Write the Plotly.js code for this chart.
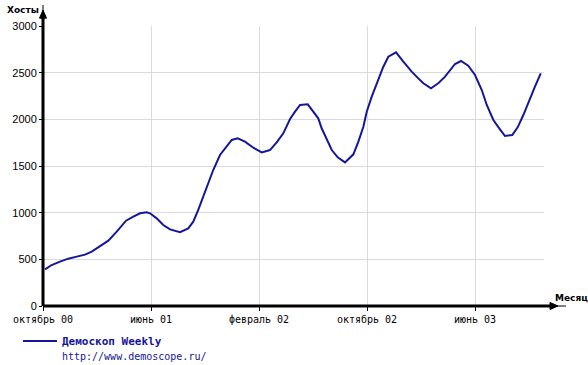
<!DOCTYPE html>
<html><head><meta charset="utf-8">
<script src="https://cdn.plot.ly/plotly-3.0.1.min.js"></script>
<style>body{margin:0;background:#fff}</style></head>
<body><div id="chart" style="width:588px;height:365px"></div>
<script>
// months since October 2000
const months = [0.15,0.64,1.26,1.87,2.50,3.11,3.61,4.22,4.84,5.46,6.15,6.69,7.19,7.68,7.93,8.42,8.91,9.41,10.15,10.76,11.13,11.50,11.87,12.24,12.61,13.11,13.61,13.98,14.42,14.96,15.58,16.20,16.81,17.31,17.80,18.30,18.67,19.04,19.61,19.95,20.39,20.64,21.01,21.39,21.83,22.37,22.99,23.36,23.73,23.98,24.35,24.72,25.21,25.58,26.15,26.69,27.31,27.80,28.17,28.74,29.28,29.78,30.15,30.52,30.96,31.50,32.00,32.50,32.87,33.36,33.85,34.22,34.76,35.16,35.58,36.07,36.44,36.87];
const hosts = [393,439,475,507,529,550,582,636,700,796,914,957,993,1004,993,939,868,821,790,832,903,1029,1171,1314,1457,1618,1718,1779,1796,1761,1696,1646,1671,1754,1850,2004,2082,2154,2161,2100,2011,1904,1796,1671,1593,1539,1625,1761,1921,2082,2243,2386,2564,2671,2718,2618,2511,2439,2386,2332,2386,2457,2529,2593,2625,2575,2475,2314,2154,1993,1893,1821,1832,1914,2046,2225,2350,2493];
const tickMonths = [0,8,16,24,32];
const tickLabels = ['октябрь 00','июнь 01','февраль 02','октябрь 02','июнь 03'];
const yTicks = [0,500,1000,1500,2000,2500,3000];
const seriesName = 'Демоскоп Weekly';
const seriesUrl = 'http://www.demoscope.ru/';
const yTitle = 'Хосты';
const xTitle = 'Месяц';

const lineColor = '#16169a';
const mono = 'DejaVu Sans Mono, monospace';

const trace = {
  x: months, y: hosts, type: 'scatter', mode: 'lines',
  line: {color: lineColor, width: 2, shape: 'linear'},
  name: '<b>' + seriesName + '</b><br><span style="font-size:10px;font-weight:normal">' + seriesUrl + '</span>',
  showlegend: true, hoverinfo: 'skip'
};

const layout = {
  width: 588, height: 365,
  margin: {l: 43, r: 44, t: 26, b: 59, autoexpand: false},
  paper_bgcolor: '#fff', plot_bgcolor: '#fff',
  showlegend: true,
  xaxis: {
    range: [0, 37.11], tickmode: 'array', tickvals: tickMonths, ticktext: tickLabels,
    showgrid: true, gridcolor: '#dadada', gridwidth: 1, zeroline: false, showline: false,
    ticks: 'outside', ticklen: 4, tickwidth: 1, tickcolor: '#000',
    tickfont: {family: mono, size: 10, color: '#000'}, fixedrange: true
  },
  yaxis: {
    range: [0, 3000], tickmode: 'array', tickvals: yTicks,
    showgrid: true, gridcolor: '#dadada', gridwidth: 1, zeroline: false, showline: false,
    ticks: 'outside', ticklen: 3, tickwidth: 1, tickcolor: '#000',
    tickfont: {family: 'Liberation Sans, Arial, sans-serif', size: 11, color: '#000'}, fixedrange: true
  },
  legend: {
    x: -0.05, xanchor: 'left', y: -0.076, yanchor: 'top', valign: 'top',
    bgcolor: 'rgba(0,0,0,0)', borderwidth: 0, itemwidth: 34,
    font: {family: mono, size: 11, color: lineColor}
  },
  shapes: [
    {type: 'line', xref: 'paper', yref: 'paper', x0: 0, y0: 0, x1: 1.018, y1: 0, line: {color: '#000', width: 3}},
    {type: 'line', xref: 'paper', yref: 'paper', x0: 1.018, y0: 0, x1: 1.044, y1: 0, line: {color: '#000', width: 1}},
    {type: 'path', xref: 'paper', yref: 'paper', path: 'M1.012,0.0125 L1.028,0 L1.012,-0.0125 Z', fillcolor: '#000', line: {color: '#000', width: 1}},
    {type: 'line', xref: 'paper', yref: 'paper', x0: 0, y0: 0, x1: 0, y1: 1.032, line: {color: '#000', width: 3}},
    {type: 'line', xref: 'paper', yref: 'paper', x0: 0, y0: 1.032, x1: 0, y1: 1.075, line: {color: '#000', width: 1}},
    {type: 'path', xref: 'paper', yref: 'paper', path: 'M-0.007,1.028 L0,1.057 L0.007,1.028 Z', fillcolor: '#000', line: {color: '#000', width: 1}}
  ],
  annotations: [
    {text: '<b>' + yTitle + '</b>', xref: 'paper', yref: 'paper', x: -0.076, y: 1.057, xanchor: 'left', yanchor: 'middle', showarrow: false, font: {family: 'DejaVu Sans', size: 9, color: '#000'}},
    {text: '<b>' + xTitle + '</b>', xref: 'paper', yref: 'paper', x: 1.018, y: 0.029, xanchor: 'left', yanchor: 'middle', showarrow: false, font: {family: 'DejaVu Sans', size: 9, color: '#000'}}
  ]
};

Plotly.newPlot('chart', [trace], layout, {displayModeBar: false, staticPlot: true});
</script>
</body></html>
